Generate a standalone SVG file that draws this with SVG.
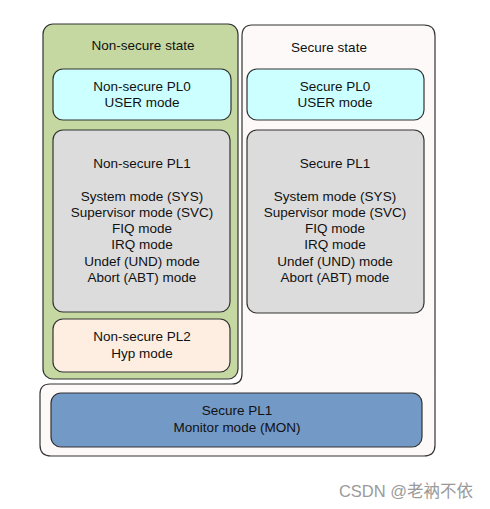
<svg xmlns="http://www.w3.org/2000/svg" width="490" height="509" viewBox="0 0 490 509">
<style>
text{font-family:"Liberation Sans",Arial,sans-serif;font-size:13.5px;fill:#111;text-anchor:middle}
.b{stroke:#333;stroke-width:1.2}
.wm{font-size:16.5px;fill:#9a9a9a;font-family:"Liberation Sans","Noto Sans CJK SC",sans-serif}
</style>
<rect width="490" height="509" fill="#fff"/>
<g id="secure-state">
<path class="b" fill="#fdf9f8" d="M252,25 H424 Q435,25 435,36 V445 Q435,456 424,456 H51 Q40,456 40,445 V394 Q40,384 50,384 H232 Q242,384 242,374 V36 Q242,25 252,25 Z"/>
<text x="329" y="52">Secure state</text>
</g>
<g id="non-secure-state">
<rect class="b" x="43" y="24" width="195" height="355" rx="10" fill="#c5d8a2"/>
<text x="143" y="50">Non-secure state</text>
</g>
<g id="ns-pl0">
<rect class="b" x="53" y="69" width="178" height="51" rx="10" fill="#ccffff"/>
<text x="142" y="91">Non-secure PL0</text>
<text x="142" y="107">USER mode</text>
</g>
<g id="ns-pl1">
<rect class="b" x="53" y="130" width="177" height="182" rx="10" fill="#dcdcdc"/>
<text x="142" y="168">Non-secure PL1</text>
<text x="142" y="201">System mode (SYS)</text>
<text x="142" y="217">Supervisor mode (SVC)</text>
<text x="142" y="233">FIQ mode</text>
<text x="142" y="249">IRQ mode</text>
<text x="142" y="266">Undef (UND) mode</text>
<text x="142" y="282">Abort (ABT) mode</text>
</g>
<g id="ns-pl2">
<rect class="b" x="53" y="319" width="177" height="53" rx="10" fill="#fdeee1"/>
<text x="142" y="341">Non-secure PL2</text>
<text x="142" y="358">Hyp mode</text>
</g>
<g id="s-pl0">
<rect class="b" x="247" y="69" width="177" height="51" rx="10" fill="#ccffff"/>
<text x="335" y="91">Secure PL0</text>
<text x="335" y="107">USER mode</text>
</g>
<g id="s-pl1">
<rect class="b" x="247" y="130" width="177" height="183" rx="10" fill="#dcdcdc"/>
<text x="335" y="168">Secure PL1</text>
<text x="335" y="201">System mode (SYS)</text>
<text x="335" y="217">Supervisor mode (SVC)</text>
<text x="335" y="233">FIQ mode</text>
<text x="335" y="249">IRQ mode</text>
<text x="335" y="266">Undef (UND) mode</text>
<text x="335" y="282">Abort (ABT) mode</text>
</g>
<g id="s-pl1-mon">
<rect class="b" x="51" y="393" width="371" height="54" rx="10" fill="#7399c6"/>
<text x="237" y="415">Secure PL1</text>
<text x="237" y="432">Monitor mode (MON)</text>
</g>
<g id="connectors"/>
<text class="wm" x="406" y="497">CSDN @老衲不依</text>
</svg>
